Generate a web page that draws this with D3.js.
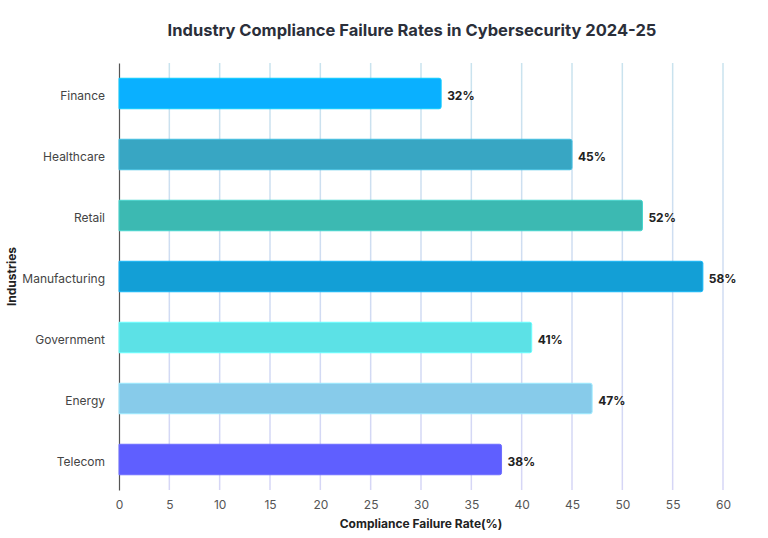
<!DOCTYPE html>
<html>
<head>
<meta charset="utf-8">
<script src="https://cdn.jsdelivr.net/npm/d3@7"></script>
<style>
  body { margin: 0; background: #fff; }
  text { font-family: Inter, "Noto Sans", sans-serif; }
</style>
</head>
<body>
<div id="chart"></div>
<script>
// data
var industries = ["Finance", "Healthcare", "Retail", "Manufacturing", "Government", "Energy", "Telecom"];
var rates = [32, 45, 52, 58, 41, 47, 38];
var barColors = ["#0ab0ff", "#38a6c3", "#3cb9b2", "#139fd6", "#5ce1e6", "#87cbea", "#5f5fff"];
var xTicks = [0, 5, 10, 15, 20, 25, 30, 35, 40, 45, 50, 55, 60];

var w = 768, h = 538;
var pLeft = 119, pRight = 723, pTop = 63, pBottom = 490;

var svg = d3.select("#chart").append("svg")
  .attr("width", w)
  .attr("height", h);

// gridline gradient (light blue at top, lavender at bottom)
var grad = svg.append("defs").append("linearGradient")
  .attr("id", "gridGrad")
  .attr("gradientUnits", "userSpaceOnUse")
  .attr("x1", 0).attr("y1", pTop).attr("x2", 0).attr("y2", pBottom);
grad.append("stop").attr("offset", "0%").attr("stop-color", "#c9e3ee");
grad.append("stop").attr("offset", "100%").attr("stop-color", "#d6d6f6");

var x = d3.scaleLinear().domain([0, 60]).range([pLeft, pRight]);
var y = d3.scaleBand().domain(industries).range([pTop, pBottom])
  .paddingInner(0.5).paddingOuter(0.25);

// grid
svg.append("g").selectAll("line")
  .data(xTicks.filter(function(d){ return d > 0; }))
  .enter().append("line")
  .attr("x1", function(d){ return x(d); })
  .attr("x2", function(d){ return x(d); })
  .attr("y1", pTop).attr("y2", pBottom)
  .attr("stroke", "url(#gridGrad)")
  .attr("stroke-width", 1.5);

// x axis ticks
var xAxis = svg.append("g")
  .attr("transform", "translate(0," + pBottom + ")")
  .call(d3.axisBottom(x).tickValues(xTicks).tickSize(0).tickPadding(10));
xAxis.select(".domain").remove();
xAxis.selectAll("text")
  .attr("font-size", "12px")
  .attr("fill", "#555")
  .style("font-family", "Inter, sans-serif");

// y axis
var yAxis = svg.append("g")
  .attr("transform", "translate(" + pLeft + ",0)")
  .call(d3.axisLeft(y).tickSize(0).tickPadding(14));
yAxis.select(".domain").attr("stroke", "#555").attr("stroke-width", 1.2);
yAxis.selectAll("text")
  .attr("font-size", "12px")
  .attr("fill", "#444")
  .attr("dy", "0.5em")
  .style("font-family", "Inter, sans-serif");

// bars
svg.append("g").selectAll("path")
  .data(industries)
  .enter().append("path")
  .attr("d", function(d, i){
    var x0 = x(0), x1 = x(rates[i]), y0 = y(d), bh = y.bandwidth(), r = 2;
    return "M" + x0 + "," + y0 +
      " L" + (x1 - r) + "," + y0 +
      " Q" + x1 + "," + y0 + " " + x1 + "," + (y0 + r) +
      " L" + x1 + "," + (y0 + bh - r) +
      " Q" + x1 + "," + (y0 + bh) + " " + (x1 - r) + "," + (y0 + bh) +
      " L" + x0 + "," + (y0 + bh) + " Z";
  })
  .attr("fill", function(d, i){ return barColors[i]; })
  .attr("stroke", function(d, i){ return d3.color(barColors[i]).brighter(0.4); })
  .attr("stroke-width", 1);

// value labels
svg.append("g").selectAll("text")
  .data(industries)
  .enter().append("text")
  .attr("x", function(d, i){ return x(rates[i]) + 6; })
  .attr("y", function(d){ return y(d) + y.bandwidth() / 2; })
  .attr("dy", "0.5em")
  .attr("font-size", "12px")
  .attr("font-weight", "bold")
  .attr("fill", "#222")
  .text(function(d, i){ return rates[i] + "%"; });

// title
svg.append("text")
  .attr("x", 412).attr("y", 36)
  .attr("text-anchor", "middle")
  .attr("font-size", "16.5px")
  .attr("font-weight", "bold")
  .attr("fill", "#2b2f3a")
  .text("Industry Compliance Failure Rates in Cybersecurity 2024-25");

// axis titles
svg.append("text")
  .attr("x", (pLeft + pRight) / 2).attr("y", 528)
  .attr("text-anchor", "middle")
  .attr("font-size", "12px")
  .attr("font-weight", "bold")
  .attr("fill", "#222")
  .text("Compliance Failure Rate(%)");

svg.append("text")
  .attr("transform", "translate(16," + ((pTop + pBottom) / 2) + ") rotate(-90)")
  .attr("text-anchor", "middle")
  .attr("font-size", "12px")
  .attr("font-weight", "bold")
  .attr("fill", "#222")
  .text("Industries");
</script>
</body>
</html>
